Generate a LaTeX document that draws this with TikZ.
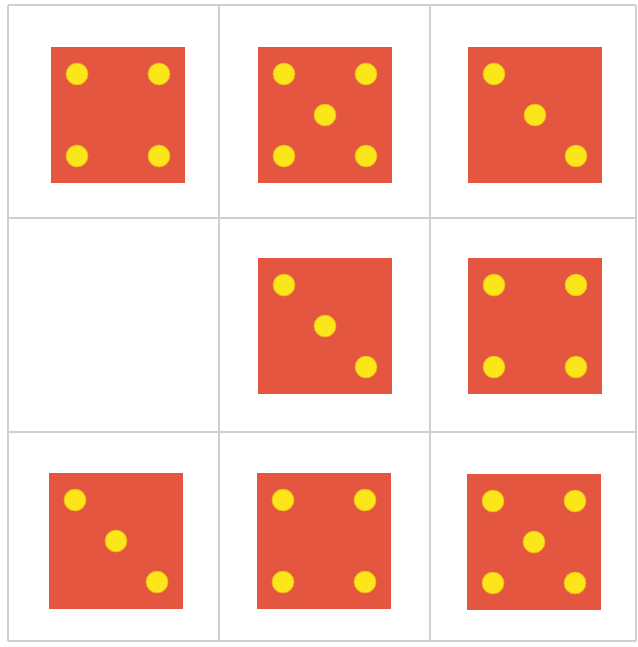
\documentclass[tikz,border=0pt]{standalone}
\usepackage{tikz}
\definecolor{dicered}{RGB}{228,86,64}
\definecolor{pipyellow}{RGB}{250,230,25}
\definecolor{pipedge}{RGB}{240,170,30}
\definecolor{gridgray}{RGB}{208,208,208}

\begin{document}
\begin{tikzpicture}[x=0.02cm,y=-0.02cm,
 grid line/.style={draw=gridgray,line width=0.6pt},
 pip/.style={fill=pipyellow,draw=pipedge,line width=0.4pt},
 face/.pic={\fill[dicered] (-67,-68) rectangle (67,68);},
 three/.pic={\pic{face};
  \foreach \dx/\dy in {-41/-41,0/0,41/41} \draw[pip] (\dx,\dy) circle (11);},
 four/.pic={\pic{face};
  \foreach \dx/\dy in {-41/-41,41/-41,-41/41,41/41} \draw[pip] (\dx,\dy) circle (11);},
 five/.pic={\pic{four}; \draw[pip] (0,0) circle (11);}]
\useasboundingbox (0,0) rectangle (638,647);
\fill[white] (0,0) rectangle (638,647);
% grid
\foreach \x in {8,219,430,636} \draw[grid line] (\x,5) -- (\x,641);
\foreach \y in {5,218,432,641} \draw[grid line] (8,\y) -- (636,\y);
% dice, row by row
\pic at (118,115) {four};
\pic at (325,115) {five};
\pic at (535,115) {three};
\pic at (325,326) {three};
\pic at (535,326) {four};
\pic at (116,541) {three};
\pic at (324,541) {four};
\pic at (534,542) {five};
\end{tikzpicture}
\end{document}
